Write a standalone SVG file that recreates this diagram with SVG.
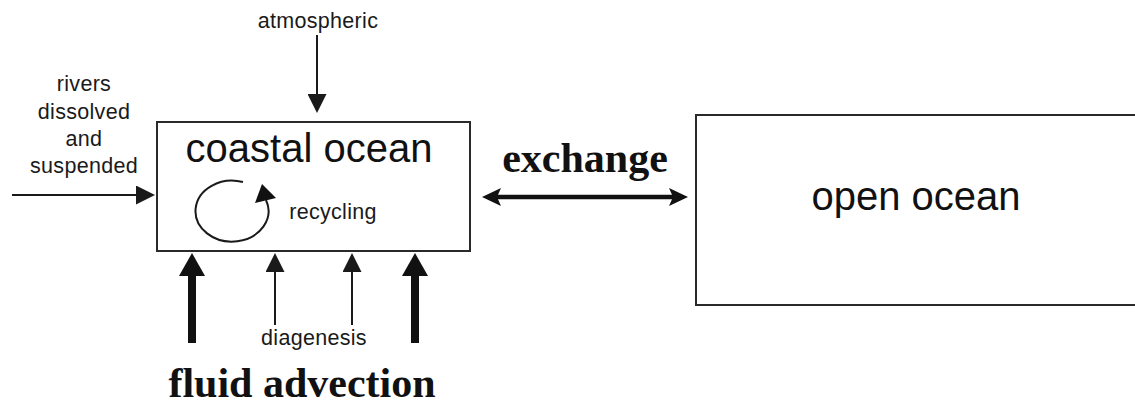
<svg xmlns="http://www.w3.org/2000/svg" width="1135" height="408" viewBox="0 0 1135 408">
  <style>
    .box { fill: #ffffff; stroke: #2a2a2a; stroke-width: 2; }
    .big { font-family: "Liberation Sans", Arial, sans-serif; font-size: 40px; fill: #111111; }
    .small { font-family: "Liberation Sans", Arial, sans-serif; font-size: 21.5px; letter-spacing: 0.3px; fill: #1a1a1a; }
    .bold { font-family: "Liberation Serif", "Times New Roman", serif; font-weight: bold; font-size: 42px; fill: #111111; }
    .thin { stroke: #1a1a1a; stroke-width: 2; fill: none; }
    .thick { stroke: #111111; stroke-width: 8; fill: none; }
    .dbl { stroke: #111111; stroke-width: 4.5; fill: none; }
  </style>
  <defs>
    <marker id="headThin" markerUnits="userSpaceOnUse" markerWidth="20" markerHeight="19" viewBox="0 0 19 19" refX="12" refY="9.5" orient="auto">
      <path d="M0,0 L19,9.5 L0,19 z" fill="#1a1a1a"/>
    </marker>
    <marker id="headThick" markerUnits="userSpaceOnUse" markerWidth="24" markerHeight="26" viewBox="0 0 23 26" refX="10" refY="13" orient="auto">
      <path d="M0,0 L23,13 L0,26 z" fill="#111111"/>
    </marker>
    <marker id="headDbl" markerUnits="userSpaceOnUse" markerWidth="20" markerHeight="18" viewBox="0 0 19 18" refX="11" refY="9" orient="auto-start-reverse">
      <path d="M0,0 L19,9 L0,18 L4,9 z" fill="#111111"/>
    </marker>
  </defs>

  <g id="coastal-ocean">
    <rect class="box" x="157" y="122" width="313" height="129"/>
    <text class="big" x="309" y="162" text-anchor="middle">coastal ocean</text>
  </g>

  <g id="recycling">
    <path class="thin" d="M243,182 A36.5,30.5 0 1 0 266,200"/>
    <polygon points="262,184 255,203 276,198" fill="#111111"/>
    <text class="small" x="333" y="219" text-anchor="middle">recycling</text>
  </g>

  <g id="open-ocean">
    <rect class="box" x="696" y="115" width="460" height="190"/>
    <text class="big" x="916" y="210" text-anchor="middle">open ocean</text>
  </g>

  <g id="labels">
    <text class="small" x="318" y="28" text-anchor="middle">atmospheric</text>
    <text class="small" x="84" y="91" text-anchor="middle">rivers</text>
    <text class="small" x="84" y="119" text-anchor="middle">dissolved</text>
    <text class="small" x="84" y="146" text-anchor="middle">and</text>
    <text class="small" x="84" y="173" text-anchor="middle">suspended</text>
    <text class="small" x="314" y="345" text-anchor="middle">diagenesis</text>
    <text class="bold" x="585" y="172" text-anchor="middle">exchange</text>
    <text class="bold" x="302" y="397" text-anchor="middle">fluid advection</text>
  </g>

  <g id="connectors">
    <!-- atmospheric input -->
    <line class="thin" x1="317" y1="35" x2="317" y2="106" marker-end="url(#headThin)"/>
    <!-- river input -->
    <line class="thin" x1="12" y1="195" x2="148" y2="195" marker-end="url(#headThin)"/>
    <!-- exchange between the two oceans -->
    <line class="dbl" x1="490" y1="197" x2="680" y2="197" marker-start="url(#headDbl)" marker-end="url(#headDbl)"/>
    <!-- fluid advection from below -->
    <line class="thick" x1="192" y1="343" x2="192" y2="266" marker-end="url(#headThick)"/>
    <line class="thick" x1="415" y1="343" x2="415" y2="266" marker-end="url(#headThick)"/>
    <!-- diagenesis from below -->
    <line class="thin" x1="275" y1="325" x2="275" y2="260" marker-end="url(#headThin)"/>
    <line class="thin" x1="352" y1="325" x2="352" y2="260" marker-end="url(#headThin)"/>
  </g>
</svg>
